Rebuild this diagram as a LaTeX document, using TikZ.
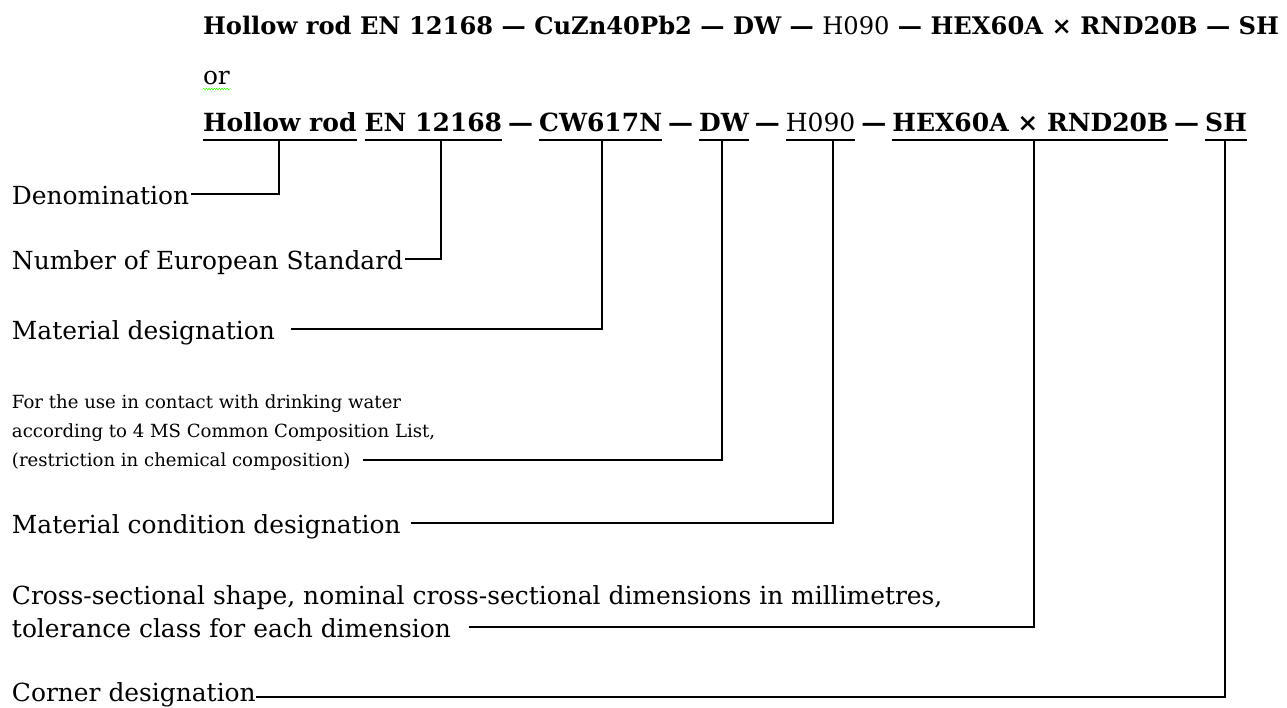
\documentclass[tikz,border=0pt]{standalone}
\usepackage{fontspec}
\setmainfont{DejaVu Serif}
\usetikzlibrary{decorations.pathmorphing}
\newcommand\hdfont{\fontsize{25}{30}\selectfont\bfseries}
\newcommand\hdafont{\fontsize{24.2}{30}\selectfont\bfseries}
\newcommand\labfont{\fontsize{24.9}{30}\selectfont}
\newcommand\smfont{\fontsize{18.1}{27}\selectfont}
\newlength\wacc \newlength\wpar \newlength\wres \newlength\wtol
\begin{document}
\begin{tikzpicture}[x=1pt,y=-1pt,
  txt/.style={inner sep=0pt, outer sep=0pt, anchor=base west},
  seg/.style={txt, font=\hdfont},
  segm/.style={txt, font=\hdfont\mdseries},
  lab/.style={txt, font=\labfont},
  sml/.style={txt, font=\smfont},
  conn/.style={draw=black, line width=1.6pt},
  ul/.style={draw=black, line width=1.6pt},
  wavy/.style={draw=green!70!lime, line width=0.6pt, decorate,
    decoration={snake, amplitude=0.7pt, segment length=2.6pt}}]
\useasboundingbox (0,0) rectangle (1287,708);
\settowidth{\wacc}{\smfont according}
\settowidth{\wpar}{\smfont (}
\settowidth{\wres}{\smfont restriction}
\settowidth{\wtol}{\labfont tolerance}
% header line 1
\node[txt, font=\hdafont] (h1) at (203,35) {Hollow rod EN 12168 — CuZn40Pb2 — DW — {\mdseries H090} — HEX60A × RND20B — SH};
\node[lab] (or) at (203,85) {or};
% header line 3, underlined segments
\node[seg]  (s1)  at (203,132) {Hollow rod};
\node[seg]  (s2)  at ([xshift=8pt]s1.base east) {EN 12168};
\node[seg]  (d1)  at ([xshift=6pt]s2.base east) {—};
\node[seg]  (s3)  at ([xshift=6pt]d1.base east) {CW617N};
\node[seg]  (d2)  at ([xshift=6pt]s3.base east) {—};
\node[seg]  (s4)  at ([xshift=6pt]d2.base east) {DW};
\node[seg]  (d3)  at ([xshift=6pt]s4.base east) {—};
\node[segm] (s5)  at ([xshift=6pt]d3.base east) {H090};
\node[seg]  (d4)  at ([xshift=6pt]s5.base east) {—};
\node[seg]  (s6)  at ([xshift=6pt]d4.base east) {HEX60A × RND20B};
\node[seg]  (d5)  at ([xshift=6pt]s6.base east) {—};
\node[seg]  (s7)  at ([xshift=6pt]d5.base east) {SH};
\foreach \s in {s1,s2,s3,s4,s5,s6,s7}
  \draw[ul] ([yshift=-8pt]\s.base west) -- ([yshift=-8pt]\s.base east);
% tap points on the underlines
\coordinate (v1) at (279,140);
\coordinate (v2) at (441,140);
\coordinate (v3) at (602,140);
\coordinate (v4) at (722,140);
\coordinate (v5) at (833,140);
\coordinate (v6) at (1034,140);
\coordinate (v7) at (1225,140);
% labels
\node[lab] (den)  at (12,205) {Denomination};
\node[lab] (num)  at (12,270) {Number of European Standard};
\node[lab] (mat)  at (12,340) {Material designation};
\node[sml] (f1)   at (12,408) {For the use in contact with drinking water};
\node[sml] (f2)   at (12,437) {according to 4 MS Common Composition List,};
\node[sml] (f3)   at (12,466) {(restriction in chemical composition)};
\node[lab] (cond) at (12,533) {Material condition designation};
\node[lab] (cr1)  at (12,604) {Cross-sectional shape, nominal cross-sectional dimensions in millimetres,};
\node[lab] (cr2)  at (12,637) {tolerance class for each dimension};
\node[lab] (cor)  at (12,701.5) {Corner designation};
% connectors
\draw[conn, shorten <=2pt]  ([yshift=11pt]den.base east)  -| (v1);
\draw[conn, shorten <=2pt]  ([yshift=11pt]num.base east)  -| (v2);
\draw[conn, shorten <=16pt] ([yshift=11pt]mat.base east)  -| (v3);
\draw[conn, shorten <=12pt] ([yshift=6pt]f3.base east)    -| (v4);
\draw[conn, shorten <=10pt] ([yshift=10pt]cond.base east) -| (v5);
\draw[conn, shorten <=18pt] ([yshift=10pt]cr2.base east)  -| (v6);
\draw[conn]                 ([yshift=4.5pt]cor.base east) -| (v7);
% spell-check marks
\draw[wavy] ([yshift=-4pt]or.base west) -- ([yshift=-4pt]or.base east);
\draw[wavy] ([yshift=-5pt]f2.base west) -- ++(\wacc,0);
\draw[wavy] ([xshift=\wpar,yshift=-5pt]f3.base west) -- ++(\wres,0);
\draw[wavy] ([yshift=-6pt]cr2.base west) -- ++(\wtol,0);
\end{tikzpicture}
\end{document}
